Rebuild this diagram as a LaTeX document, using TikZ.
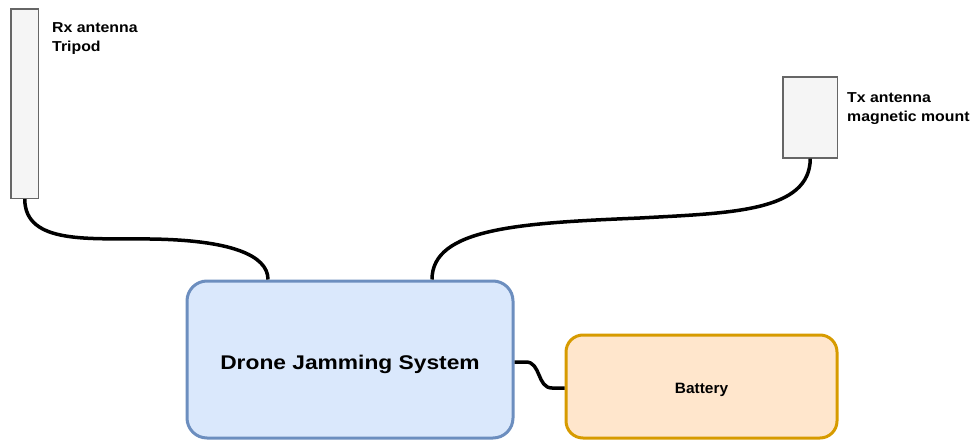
\documentclass[tikz,border=0pt]{standalone}
\usepackage{fontspec}
\newfontfamily\bigfnt[FakeStretch=1.15]{Liberation Sans}
\newfontfamily\labfnt[FakeStretch=1.10]{Liberation Sans}
\newfontfamily\batfnt[FakeStretch=1.03]{Liberation Sans}
\definecolor{blfill}{HTML}{DAE8FC}
\definecolor{bldraw}{HTML}{6C8EBF}
\definecolor{orfill}{HTML}{FFE6CC}
\definecolor{ordraw}{HTML}{D79B00}
\definecolor{gyfill}{HTML}{F5F5F5}
\definecolor{gydraw}{HTML}{666666}
\tikzset{
  antenna/.style={draw=gydraw, fill=gyfill, line width=1.2pt, inner sep=0pt},
  mainbox/.style={draw=bldraw, fill=blfill, line width=3pt, rounded corners=20pt, inner sep=0pt,
    minimum width=326pt, minimum height=157pt, font=\bigfnt\bfseries\fontsize{19.8}{22}\selectfont,
    text height=19pt, text depth=0pt},
  batbox/.style={draw=ordraw, fill=orfill, line width=3pt, rounded corners=17pt, inner sep=0pt,
    minimum width=271pt, minimum height=103pt, font=\batfnt\bfseries\fontsize{15}{18}\selectfont,
    text height=14pt, text depth=0pt},
  lab/.style={font=\labfnt\bfseries\fontsize{14.4}{19}\selectfont, align=left, inner sep=0pt, anchor=base west},
  cable/.style={draw=black, line width=3.5pt}
}
\begin{document}
\begin{tikzpicture}[x=1pt,y=-1pt]
\path[use as bounding box] (0,0) rectangle (976,441);
\node[antenna, minimum width=27.5pt, minimum height=189.5pt] (rx) at (24.75,103.75) {};
\node[antenna, minimum width=54.5pt, minimum height=81pt] (tx) at (810.25,117.5) {};
\node[mainbox] (main) at (350,359.5) {Drone Jamming System};
\node[batbox] (bat) at (701.5,386.5) {Battery};
\node[lab] (rxlab) at (52,51.7) {Rx antenna\\Tripod};
\node[lab] (txlab) at (847,121.7) {Tx antenna\\magnetic mount};
\coordinate (rxend) at ([xshift=-82pt]main.north);
\coordinate (txend) at ([xshift=82pt]main.north);
\draw[cable] (rx.south) .. controls (25,245) and (90,238) .. (150,239)
  .. controls (230,240) and (268,255) .. (rxend);
\draw[cable] (tx.south) .. controls (810,212) and (730,213) .. (640,218)
  .. controls (520,223) and (432,228) .. (txend);
\coordinate (ms) at ([yshift=-2.5pt]main.east);
\coordinate (bs) at ([yshift=-1.5pt]bat.west);
\draw[cable] (ms) -- (526,362) .. controls (541,362) and (537,388) .. (552,388) -- (bs);
\end{tikzpicture}
\end{document}
